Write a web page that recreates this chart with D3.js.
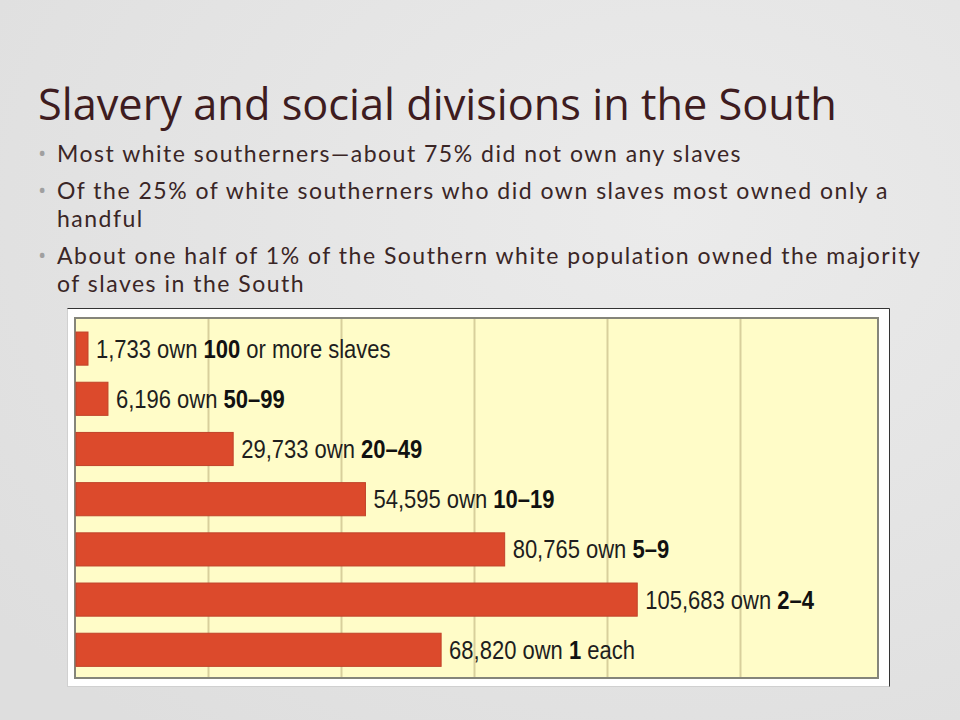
<!DOCTYPE html>
<html><head><meta charset="utf-8">
<script src="https://cdn.jsdelivr.net/npm/d3@7"></script>
<style>
html,body{margin:0;padding:0;background:#e3e3e3;}
svg{display:block;}
</style></head>
<body>
<script>
const title = "Slavery and social divisions in the South";
const bullets = [
  ["Most white southerners\u2014about 75% did not own any slaves"],
  ["Of the 25% of white southerners who did own slaves most owned only a", "handful"],
  ["About one half of 1% of the Southern white population owned the majority", "of slaves in the South"]
];
const categories = ["100 or more slaves", "50\u201399", "20\u201349", "10\u201319", "5\u20139", "2\u20134", "1 each"];
const boldParts = ["100", "50\u201399", "20\u201349", "10\u201319", "5\u20139", "2\u20134", "1"];
const restParts = [" or more slaves", "", "", "", "", "", " each"];
const owners = [1733, 6196, 29733, 54595, 80765, 105683, 68820];
const gridTicks = [25000, 50000, 75000, 100000, 125000];

const W = 960, H = 720;
const svg = d3.select("body").append("svg").attr("width", W).attr("height", H);

// background
const defs = svg.append("defs");
const rg = defs.append("radialGradient").attr("id","bg").attr("cx","0.7").attr("cy","0.3").attr("r","0.9");
rg.append("stop").attr("offset","0%").attr("stop-color","#ebebeb");
rg.append("stop").attr("offset","100%").attr("stop-color","#dedede");
svg.append("rect").attr("width", W).attr("height", H).attr("fill", "url(#bg)");

// title
svg.append("text").attr("x", 38).attr("y", 120)
  .attr("font-family", "'Open Sans', 'Noto Sans', sans-serif")
  .attr("font-size", 43.3).attr("fill", "#3e1c20")
  .text(title);

// bullets (wrapped lines kept in one text element)
const bulletBase = [162, 199, 264];
const lineGap = 28;
bullets.forEach((lines, i) => {
  svg.append("text").attr("x", 38).attr("y", bulletBase[i] - 1)
    .attr("font-family", "'Open Sans', sans-serif").attr("font-size", 22)
    .attr("fill", "#a0a0a0").text("\u2022");
  const t = svg.append("text").attr("y", bulletBase[i])
    .attr("font-family", "Lato, 'Open Sans', sans-serif")
    .attr("font-size", 23).attr("letter-spacing", 1.5).attr("fill", "#3a2626");
  lines.forEach((ln, j) => {
    t.append("tspan").attr("x", 57).attr("dy", j === 0 ? 0 : lineGap).text(ln);
  });
});

// chart frame
svg.append("rect").attr("x", 67.5).attr("y", 308.5).attr("width", 822).attr("height", 378)
  .attr("fill", "#ffffff").attr("stroke", "#d0d0d0").attr("stroke-width", 1);
svg.append("path").attr("d", "M67.5,308.5 H889.5 V686.5").attr("fill", "none").attr("stroke", "#333").attr("stroke-width", 1);

const plot = {x0: 75, x1: 878, y0: 318, y1: 678};
svg.append("rect").attr("x", plot.x0).attr("y", plot.y0)
  .attr("width", plot.x1 - plot.x0).attr("height", plot.y1 - plot.y0)
  .attr("fill", "#fffcc8");

const x = d3.scaleLinear().domain([0, 150000]).range([75, 873]);
const y = d3.scaleBand().domain(categories).range([323.5, 674.9]).paddingInner(0.34).paddingOuter(0.17);

// gridlines via axis
const gAxis = svg.append("g").attr("transform", `translate(0,${plot.y1})`)
  .call(d3.axisBottom(x).tickValues(gridTicks).tickSize(-(plot.y1 - plot.y0)).tickFormat(""));
gAxis.select(".domain").remove();
gAxis.selectAll(".tick line").attr("stroke", "#d8cf9c").attr("stroke-width", 2);

// inner border
svg.append("rect").attr("x", plot.x0).attr("y", plot.y0)
  .attr("width", plot.x1 - plot.x0).attr("height", plot.y1 - plot.y0)
  .attr("fill", "none").attr("stroke", "#85857a").attr("stroke-width", 2);

const minW = 12;
const barEnd = i => x(0) + 1 + Math.max(minW, x(owners[i]) - x(0) - 1);
svg.append("g").selectAll("rect").data(categories).join("rect")
  .attr("x", x(0) + 1)
  .attr("y", d => y(d))
  .attr("width", (d, i) => barEnd(i) - x(0) - 1)
  .attr("height", y.bandwidth())
  .attr("fill", "#dc4a2c").attr("stroke", "#c0432a").attr("stroke-width", 1);

const fmt = d3.format(",");
const sx = 0.88; // narrow (condensed) look
const labels = svg.append("g").selectAll("text").data(categories).join("text")
  .attr("transform", (d, i) => `translate(${barEnd(i) + 8},${y(d) + y.bandwidth() / 2}) scale(${sx},1)`)
  .attr("dy", "0.36em")
  .attr("font-family", "'Liberation Sans Narrow', 'Arial Narrow', 'Liberation Sans', sans-serif")
  .attr("font-size", 25).attr("fill", "#1e1e1e");
labels.append("tspan").text((d, i) => fmt(owners[i]) + " own ");
labels.append("tspan").attr("font-weight", "bold").attr("fill", "#111").text((d, i) => boldParts[i]);
labels.append("tspan").text((d, i) => restParts[i]);
</script>
</body></html>
